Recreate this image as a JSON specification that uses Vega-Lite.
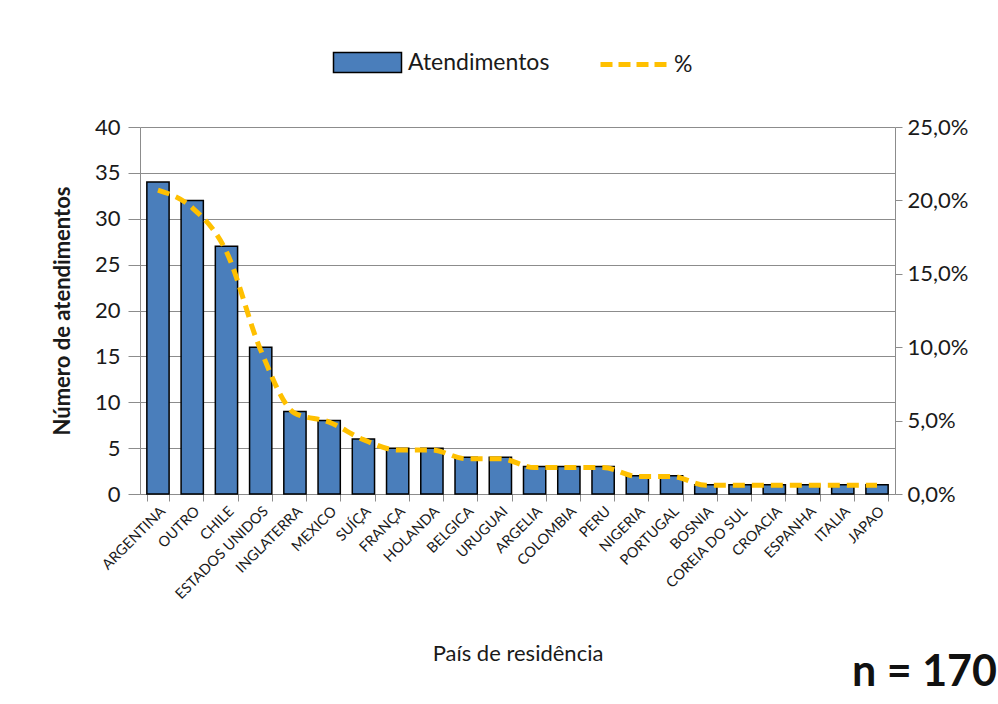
{
  "$schema": "https://vega.github.io/schema/vega-lite/v6.json",
  "autosize": {"type": "none"},
  "width": 755,
  "height": 367,
  "padding": {"left": 140, "top": 127, "right": 103, "bottom": 210},
  "background": "white",
  "config": {
    "font": "Lato",
    "view": {"stroke": null},
    "locale": {"number": {"decimal": ",", "thousands": ".", "grouping": [3], "currency": ["R$", ""]}},
    "axis": {"labelColor": "#1a1a1a", "titleColor": "#1a1a1a", "domainColor": "#8c8c8c", "tickColor": "#8c8c8c", "gridColor": "#8c8c8c"}
  },
  "title": {"text": "n = 170", "orient": "bottom", "anchor": "end", "frame": "group", "fontSize": 43, "fontWeight": "bold", "color": "#111111", "dx": 102, "offset": -12},
  "data": {"values": [
    {"pais": "ARGENTINA", "n": 34, "pct": 0.207},
    {"pais": "OUTRO", "n": 32, "pct": 0.195},
    {"pais": "CHILE", "n": 27, "pct": 0.165},
    {"pais": "ESTADOS UNIDOS", "n": 16, "pct": 0.098},
    {"pais": "INGLATERRA", "n": 9, "pct": 0.055},
    {"pais": "MEXICO", "n": 8, "pct": 0.049},
    {"pais": "SUÍÇA", "n": 6, "pct": 0.037},
    {"pais": "FRANÇA", "n": 5, "pct": 0.030},
    {"pais": "HOLANDA", "n": 5, "pct": 0.030},
    {"pais": "BELGICA", "n": 4, "pct": 0.024},
    {"pais": "URUGUAI", "n": 4, "pct": 0.024},
    {"pais": "ARGELIA", "n": 3, "pct": 0.018},
    {"pais": "COLOMBIA", "n": 3, "pct": 0.018},
    {"pais": "PERU", "n": 3, "pct": 0.018},
    {"pais": "NIGERIA", "n": 2, "pct": 0.012},
    {"pais": "PORTUGAL", "n": 2, "pct": 0.012},
    {"pais": "BOSNIA", "n": 1, "pct": 0.006},
    {"pais": "COREIA DO SUL", "n": 1, "pct": 0.006},
    {"pais": "CROACIA", "n": 1, "pct": 0.006},
    {"pais": "ESPANHA", "n": 1, "pct": 0.006},
    {"pais": "ITALIA", "n": 1, "pct": 0.006},
    {"pais": "JAPAO", "n": 1, "pct": 0.006}
  ]},
  "encoding": {
    "x": {
      "field": "pais", "type": "nominal", "sort": null,
      "scale": {"paddingInner": 0.35, "paddingOuter": 0.2},
      "axis": {
        "title": "País de residência", "titleFontSize": 22, "titleFontWeight": "normal", "titlePadding": 42,
        "labelAngle": -45, "labelAlign": "right", "labelBaseline": "top", "labelFontSize": 14.5,
        "tickBand": "extent", "tickSize": 7, "labelPadding": 3
      }
    }
  },
  "layer": [
    {
      "mark": {"type": "bar", "stroke": "#000000", "strokeWidth": 1.5},
      "encoding": {
        "y": {
          "field": "n", "type": "quantitative",
          "scale": {"domain": [0, 40]},
          "axis": {
            "title": "Número de atendimentos", "titleFontSize": 22, "titleFontWeight": "bold", "titlePadding": 20,
            "values": [0, 5, 10, 15, 20, 25, 30, 35, 40], "labelFontSize": 22, "grid": true, "tickSize": 12, "labelPadding": 8
          }
        },
        "fill": {
          "datum": "Atendimentos",
          "scale": {"range": ["#4A7EBB"]},
          "legend": {
            "title": null, "orient": "none", "legendX": 216, "legendY": -76, "labelFontSize": 23, "labelOffset": 29,
            "symbolType": "M-3.4,-1H3.4V1H-3.4Z",
            "symbolSize": 400, "symbolStrokeColor": "#000000", "symbolStrokeWidth": 1.5, "symbolFillColor": "#4A7EBB", "labelColor": "#1a1a1a"
          }
        }
      }
    },
    {
      "mark": {"type": "line", "strokeWidth": 5, "strokeDash": [12, 7], "interpolate": "monotone"},
      "encoding": {
        "y": {
          "field": "pct", "type": "quantitative",
          "scale": {"domain": [0, 0.25]},
          "axis": {
            "title": null, "orient": "right", "format": ".1%", "values": [0, 0.05, 0.1, 0.15, 0.2, 0.25],
            "labelFontSize": 22, "grid": false, "tickSize": 7, "labelPadding": 5
          }
        },
        "stroke": {
          "datum": "%",
          "scale": {"range": ["#FFC000"]},
          "legend": {
            "title": null, "orient": "none", "legendX": 458, "legendY": -99, "labelFontSize": 23, "labelOffset": 3,
            "symbolType": "stroke", "symbolStrokeWidth": 5,
            "symbolDash": [12, 6], "symbolSize": 4624, "labelColor": "#1a1a1a"
          }
        }
      }
    }
  ],
  "resolve": {"scale": {"y": "independent", "fill": "independent", "stroke": "independent"}}
}
